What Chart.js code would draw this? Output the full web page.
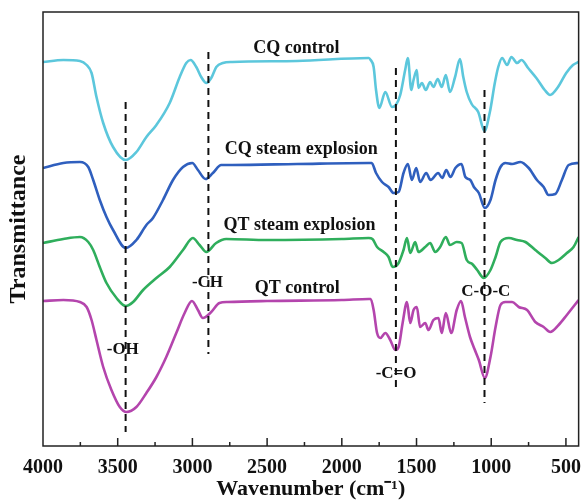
<!DOCTYPE html>
<html>
<head>
<meta charset="utf-8">
<script src="https://cdn.jsdelivr.net/npm/chart.js@4.4.0/dist/chart.umd.min.js"></script>
<style>
  body { margin: 0; background: #fff; }
  canvas { display: block; }
</style>
</head>
<body>
<canvas id="ftirChart" width="583" height="503"></canvas>
<script>
// wavenumber (cm-1), transmittance (arbitrary offset units)
const cqControl = [
  [4000, 384], [3864, 386], [3753, 385], [3708, 381], [3675, 373], [3642, 349], [3597, 323],
  [3531, 299], [3446, 286], [3375, 294], [3308, 309], [3241, 321], [3152, 343], [3085, 369],
  [3041, 383], [3012, 386], [2974, 379], [2941, 369], [2907, 363], [2874, 368], [2840, 379],
  [2796, 383], [2733, 384], [2300, 385], [1820, 388], [1807, 386], [1787, 379], [1771, 356],
  [1749, 338], [1709, 354], [1664, 339], [1638, 341], [1609, 351], [1576, 376], [1558, 388],
  [1535, 356], [1520, 366], [1498, 376], [1487, 358], [1464, 363], [1438, 356], [1409, 364],
  [1387, 359], [1358, 367], [1331, 359], [1304, 371], [1276, 354], [1242, 369], [1209, 387],
  [1187, 369], [1164, 354], [1131, 342], [1087, 334], [1045, 315], [1009, 334], [976, 363],
  [953, 379], [927, 388], [894, 381], [865, 389], [827, 383], [798, 386], [753, 378],
  [698, 368], [642, 356], [606, 351], [553, 359], [498, 373], [453, 381], [415, 384]
];
const cqSteam = [
  [4000, 278], [3864, 283], [3753, 284], [3697, 279], [3664, 266], [3620, 246], [3575, 229],
  [3531, 216], [3446, 198], [3375, 206], [3308, 221], [3264, 228], [3197, 246], [3130, 266],
  [3063, 279], [3001, 283], [2963, 276], [2912, 267], [2863, 273], [2807, 281], [2733, 281],
  [2300, 282], [1820, 283], [1800, 283], [1771, 273], [1731, 264], [1687, 259], [1653, 253],
  [1620, 254], [1587, 273], [1558, 282], [1531, 266], [1502, 278], [1476, 264], [1435, 273],
  [1406, 266], [1355, 273], [1328, 268], [1301, 276], [1273, 269], [1240, 278], [1199, 282],
  [1173, 269], [1140, 266], [1116, 259], [1083, 253], [1043, 238], [1005, 246], [971, 266],
  [938, 279], [905, 283], [860, 282], [805, 284], [749, 278], [694, 266], [649, 259],
  [616, 251], [571, 252], [527, 266], [482, 281], [415, 283]
];
const qtSteam = [
  [4000, 203], [3864, 207], [3753, 209], [3697, 204], [3664, 196], [3620, 179], [3575, 163],
  [3508, 148], [3446, 140], [3397, 144], [3330, 156], [3241, 168], [3152, 179], [3063, 196],
  [2997, 208], [2952, 201], [2907, 194], [2841, 203], [2774, 207], [2500, 206], [2000, 207],
  [1820, 208], [1795, 207], [1764, 199], [1720, 194], [1687, 189], [1660, 179], [1620, 183],
  [1587, 196], [1564, 208], [1542, 193], [1509, 204], [1487, 194], [1442, 199], [1409, 203],
  [1375, 194], [1342, 199], [1304, 209], [1276, 201], [1231, 204], [1198, 203], [1164, 186],
  [1127, 182], [1094, 176], [1050, 168], [1005, 176], [971, 189], [938, 204], [882, 208],
  [827, 206], [771, 204], [705, 196], [638, 188], [594, 183], [549, 186], [494, 193],
  [449, 199], [415, 209]
];
const qtControl = [
  [4000, 145], [3864, 146], [3753, 144], [3708, 139], [3675, 126], [3642, 106], [3597, 79],
  [3542, 56], [3486, 39], [3441, 34], [3375, 39], [3308, 53], [3241, 69], [3175, 89],
  [3108, 113], [3052, 133], [3003, 145], [2963, 136], [2930, 128], [2874, 134], [2819, 143],
  [2763, 144], [2500, 145], [2000, 146], [1820, 147], [1807, 147], [1787, 136], [1764, 113],
  [1742, 108], [1709, 113], [1676, 106], [1642, 96], [1620, 99], [1593, 123], [1564, 144],
  [1542, 123], [1520, 136], [1498, 139], [1476, 119], [1442, 123], [1420, 116], [1387, 126],
  [1353, 128], [1331, 113], [1304, 133], [1268, 113], [1231, 136], [1202, 145], [1176, 129],
  [1142, 109], [1112, 97], [1083, 86], [1043, 68], [1005, 89], [971, 119], [938, 141],
  [905, 144], [860, 144], [816, 139], [760, 136], [705, 124], [649, 119], [605, 114],
  [549, 121], [494, 131], [415, 146]
];

// band markers: wavenumber, from, to
const bandLines = [[3447, 344, 14], [2893, 394, 92], [1638, 378, 56], [1045, 356, 43]];

// text labels: text, wavenumber, level
const curveLabels = [
  ['CQ control', 2304, 398],
  ['CQ steam explosion', 2271, 297],
  ['QT steam explosion', 2284, 221],
  ['QT control', 2298, 158]
];
const bandLabels = [
  ['-OH', 3466, 96],
  ['-CH', 2899, 163],
  ['-C=O', 1637, 72],
  ['C-O-C', 1036, 154]
];

const xTicks = [4000, 3500, 3000, 2500, 2000, 1500, 1000, 500];
const minorTicks = [3750, 3500, 3250, 3000, 2750, 2500, 2250, 2000, 1750, 1500, 1250, 1000, 750, 500];

const colors = ['#5cc7dc', '#2f5fbe', '#2fae5c', '#b445ad'];
const seriesNames = ['CQ control', 'CQ steam explosion', 'QT steam explosion', 'QT control'];
const seriesData = [cqControl, cqSteam, qtSteam, qtControl];

const toPoints = arr => arr.map(p => ({ x: p[0], y: p[1] }));

const datasets = [];
bandLines.forEach(b => {
  datasets.push({
    data: [{ x: b[0], y: b[1] }, { x: b[0], y: b[2] }],
    borderColor: '#111',
    borderWidth: 2,
    borderDash: [7, 5],
    pointRadius: 0,
    order: 0
  });
});
seriesData.forEach((s, i) => {
  datasets.push({
    label: seriesNames[i],
    data: toPoints(s),
    borderColor: colors[i],
    borderWidth: 2.6,
    pointRadius: 0,
    cubicInterpolationMode: 'monotone',
    order: 1
  });
});

const serif = '"Liberation Serif", "Times New Roman", serif';

const framePlugin = {
  id: 'frame',
  afterDatasetsDraw(chart) {
    const { ctx, chartArea: a, scales } = chart;
    ctx.save();
    ctx.strokeStyle = '#222';
    ctx.lineWidth = 1.5;
    ctx.strokeRect(a.left, a.top, a.right - a.left, a.bottom - a.top);
    ctx.beginPath();
    minorTicks.forEach(v => {
      const x = scales.x.getPixelForValue(v);
      const len = v % 500 === 0 ? 8 : 4;
      ctx.moveTo(x, a.bottom);
      ctx.lineTo(x, a.bottom - len);
    });
    ctx.stroke();

    ctx.fillStyle = '#111';
    ctx.textAlign = 'center';
    ctx.textBaseline = 'middle';
    ctx.font = 'bold 18px ' + serif;
    curveLabels.forEach(l => {
      ctx.fillText(l[0], scales.x.getPixelForValue(l[1]), scales.y.getPixelForValue(l[2]));
    });
    ctx.font = 'bold 17px ' + serif;
    bandLabels.forEach(l => {
      ctx.fillText(l[0], scales.x.getPixelForValue(l[1]), scales.y.getPixelForValue(l[2]));
    });
    ctx.restore();
  }
};

new Chart(document.getElementById('ftirChart'), {
  type: 'line',
  data: { datasets: datasets },
  options: {
    responsive: false,
    animation: false,
    layout: { padding: { top: 12, right: 3, left: 0, bottom: 0 }, autoPadding: false },
    plugins: { legend: { display: false }, tooltip: { enabled: false } },
    scales: {
      x: {
        type: 'linear',
        reverse: true,
        min: 415,
        max: 4000,
        grid: { display: false },
        border: { display: false },
        afterBuildTicks: scale => { scale.ticks = xTicks.map(v => ({ value: v })); },
        afterFit: scale => { scale.height = 57; },
        ticks: {
          autoSkip: false,
          maxRotation: 0,
          padding: 2,
          color: '#111',
          callback: v => String(v),
          font: { family: serif, size: 20, weight: 'bold' }
        },
        title: {
          display: true,
          text: 'Wavenumber (cm\u207B\u00B9)',
          color: '#111',
          padding: { top: 0, bottom: 0 },
          font: { family: serif, size: 22, weight: 'bold' }
        }
      },
      y: {
        min: 0,
        max: 434,
        grid: { display: false },
        border: { display: false },
        ticks: { display: false },
        afterFit: scale => { scale.width = 43; },
        title: {
          display: true,
          text: 'Transmittance',
          color: '#111',
          padding: { top: 4, bottom: 0 },
          font: { family: serif, size: 24, weight: 'bold' }
        }
      }
    }
  },
  plugins: [framePlugin]
});
</script>
</body>
</html>
